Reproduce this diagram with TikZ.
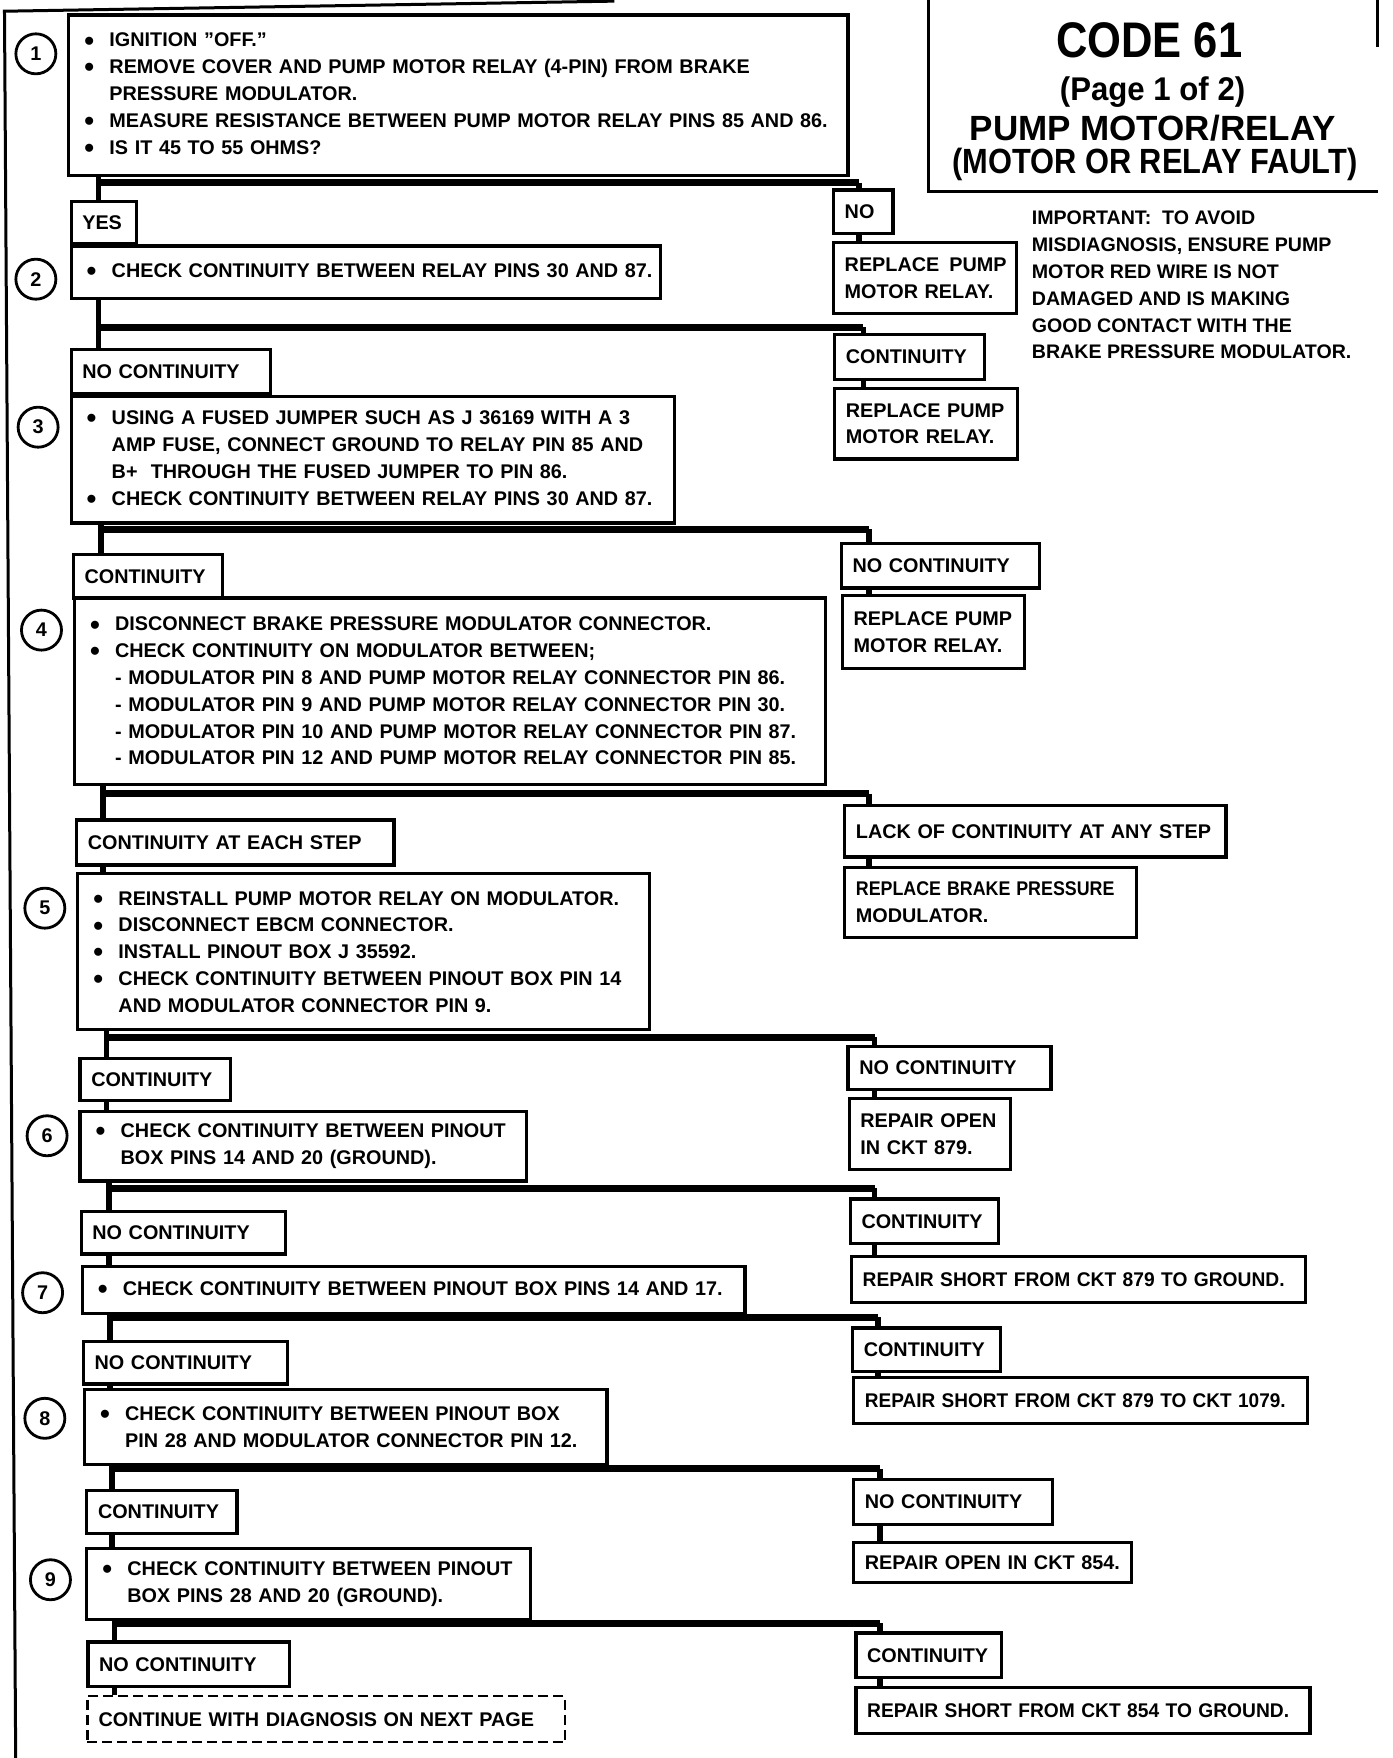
\documentclass[tikz,border=0pt]{standalone}
\usepackage{fontspec}
\setmainfont{Liberation Sans}
\usepackage{tikz}
\newcommand{\bu}[1]{\mbox{\makebox[12.5pt][l]{\raisebox{-1.6pt}{\fontsize{14}{14}\selectfont\textbullet}}#1}}
\newcommand{\cont}[1]{\mbox{\hspace*{12.5pt}#1}}
\newcommand{\pl}[1]{\mbox{#1}}
\tikzset{
  bx/.style 2 args={draw,line width=1.6pt,anchor=north west,align=left,
             inner xsep=5.6pt,inner ysep=1pt,
             text width={#1*0.5604pt-11.2pt},minimum height={#2*0.5604pt},
             font=\fontsize{9.9}{13.4}\selectfont\bfseries},
  mb/.style 2 args={bx={#1}{#2},inner xsep=7.8pt,text width={#1*0.5604pt-15.6pt}},
  nb/.style={circle,draw,line width=1.4pt,minimum size=20pt,inner sep=0pt,
             font=\fontsize{9.9}{12}\selectfont\bfseries},
  nx/.style 2 args={bx={#1}{#2},line width=1.1pt,dash pattern=on 5pt off 2.5pt},
  bar/.style={line width=3.4pt},
  stub/.style={line width=2.8pt},
  hd/.style={inner sep=0pt,font=\bfseries}
}
\begin{document}
\begin{tikzpicture}[x=0.5604pt,y=-0.5604pt]
  \useasboundingbox (0,0) rectangle (1242,1568);
  % page edge
  \draw[line width=1.5pt] (14,1568) -- (4,10) -- (548,1);

  % title
  \node[anchor=north west,inner sep=0pt,minimum width={400*0.5604pt},minimum height={190*0.5604pt}] (ttl) at (828,-20) {};
  \draw[line width=1.6pt] (ttl.north west) -- (ttl.south west) -- (ttl.south east);
  \draw[line width=1.6pt] (ttl.north east) -- ++(0,62);
  \node[hd,font=\fontsize{25}{30}\selectfont\bfseries] (t1) at (1025,36) {\scalebox{0.87}[1]{CODE 61}};
  \node[hd,font=\fontsize{16.4}{20}\selectfont\bfseries] (t2) at (1028,82) {\scalebox{0.95}[1]{(Page 1 of 2)}};
  \node[hd,font=\fontsize{17.5}{21}\selectfont\bfseries] (t3) at (1028,114) {PUMP MOTOR/RELAY};
  \node[hd,font=\fontsize{17.5}{21}\selectfont\bfseries] (t4) at (1030,147) {\scalebox{0.88}[1]{(MOTOR OR RELAY FAULT)}};
  \node[hd,anchor=north west,align=left,font=\fontsize{9.8}{13.4}\selectfont\bfseries] (imp) at (920,188)
    {IMPORTANT:\ \ TO AVOID\\MISDIAGNOSIS, ENSURE PUMP\\MOTOR RED WIRE IS NOT\\DAMAGED AND IS MAKING\\GOOD CONTACT WITH THE\\BRAKE PRESSURE MODULATOR.};

  % steps
  \node[mb={695}{143}] (s1) at (60,12) {\bu{IGNITION "OFF."}\\\bu{REMOVE COVER AND PUMP MOTOR RELAY (4-PIN) FROM BRAKE}\\\cont{PRESSURE MODULATOR.}\\\bu{MEASURE RESISTANCE BETWEEN PUMP MOTOR RELAY PINS 85 AND 86.}\\\bu{IS IT 45 TO 55 OHMS?}};
  \node[mb={526}{47}] (s2) at (62,218) {\bu{CHECK CONTINUITY BETWEEN RELAY PINS 30 AND 87.}};
  \node[mb={538}{113}] (s3) at (62,352) {\bu{USING A FUSED JUMPER SUCH AS J 36169 WITH A 3}\\\cont{AMP FUSE, CONNECT GROUND TO RELAY PIN 85 AND}\\\cont{B+\ \ THROUGH THE FUSED JUMPER TO PIN 86.}\\\bu{CHECK CONTINUITY BETWEEN RELAY PINS 30 AND 87.}};
  \node[mb={670}{166}] (s4) at (65,532) {\bu{DISCONNECT BRAKE PRESSURE MODULATOR CONNECTOR.}\\\bu{CHECK CONTINUITY ON MODULATOR BETWEEN;}\\\cont{- MODULATOR PIN 8 AND PUMP MOTOR RELAY CONNECTOR PIN 86.}\\\cont{- MODULATOR PIN 9 AND PUMP MOTOR RELAY CONNECTOR PIN 30.}\\\cont{- MODULATOR PIN 10 AND PUMP MOTOR RELAY CONNECTOR PIN 87.}\\\cont{- MODULATOR PIN 12 AND PUMP MOTOR RELAY CONNECTOR PIN 85.}};
  \node[mb={510}{139}] (s5) at (68,778) {\bu{REINSTALL PUMP MOTOR RELAY ON MODULATOR.}\\\bu{DISCONNECT EBCM CONNECTOR.}\\\bu{INSTALL PINOUT BOX J 35592.}\\\bu{CHECK CONTINUITY BETWEEN PINOUT BOX PIN 14}\\\cont{AND MODULATOR CONNECTOR PIN 9.}};
  \node[mb={398}{62}] (s6) at (70,990) {\bu{CHECK CONTINUITY BETWEEN PINOUT}\\\cont{BOX PINS 14 AND 20 (GROUND).}};
  \node[mb={591}{42}] (s7) at (72,1128) {\bu{CHECK CONTINUITY BETWEEN PINOUT BOX PINS 14 AND 17.}};
  \node[mb={466}{67}] (s8) at (74,1238) {\bu{CHECK CONTINUITY BETWEEN PINOUT BOX}\\\cont{PIN 28 AND MODULATOR CONNECTOR PIN 12.}};
  \node[mb={396}{63}] (s9) at (76,1380) {\bu{CHECK CONTINUITY BETWEEN PINOUT}\\\cont{BOX PINS 28 AND 20 (GROUND).}};
  \node[nx={426}{41}] (s10) at (77,1512) {\pl{CONTINUE WITH DIAGNOSIS ON NEXT PAGE}};

  \node[nb] (c1) at (32,48) {1};
  \node[nb] (c2) at (32,249) {2};
  \node[nb] (c3) at (34,381) {3};
  \node[nb] (c4) at (37,562) {4};
  \node[nb] (c5) at (40,810) {5};
  \node[nb] (c6) at (42,1013) {6};
  \node[nb] (c7) at (38,1153) {7};
  \node[nb] (c8) at (40,1265) {8};
  \node[nb] (c9) at (45,1409) {9};

  % left answers
  \node[bx={58}{38}] (l1) at (62,178) {\pl{YES}};
  \node[bx={178}{40}] (l2) at (62,310) {\pl{NO CONTINUITY}};
  \node[bx={133}{39}] (l3) at (64,493) {\pl{CONTINUITY}};
  \node[bx={283}{40}] (l4) at (67,730) {\pl{CONTINUITY AT EACH STEP}};
  \node[bx={134}{37}] (l5) at (70,943) {\pl{CONTINUITY}};
  \node[bx={182}{38}] (l6) at (71,1079) {\pl{NO CONTINUITY}};
  \node[bx={182}{38}] (l7) at (73,1195) {\pl{NO CONTINUITY}};
  \node[bx={134}{38}] (l8) at (76,1328) {\pl{CONTINUITY}};
  \node[bx={180}{40}] (l9) at (77,1463) {\pl{NO CONTINUITY}};

  % right answers
  \node[bx={53}{39}] (r1) at (742,168) {\pl{NO}};
  \node[bx={134}{40}] (r2) at (743,297) {\pl{CONTINUITY}};
  \node[bx={177}{40}] (r3) at (749,483) {\pl{NO CONTINUITY}};
  \node[bx={340}{46}] (r4) at (752,717) {\pl{LACK OF CONTINUITY AT ANY STEP}};
  \node[bx={181}{38}] (r5) at (755,932) {\pl{NO CONTINUITY}};
  \node[bx={132}{40}] (r6) at (757,1068) {\pl{CONTINUITY}};
  \node[bx={132}{39}] (r7) at (759,1183) {\pl{CONTINUITY}};
  \node[bx={177}{40}] (r8) at (760,1318) {\pl{NO CONTINUITY}};
  \node[bx={130}{40}] (r9) at (762,1455) {\pl{CONTINUITY}};

  \node[bx={163}{63}] (a1) at (742,215) {\pl{REPLACE\hspace{5pt}PUMP}\\\pl{MOTOR RELAY.}};
  \node[bx={163}{63}] (a2) at (743,345) {\pl{REPLACE PUMP}\\\pl{MOTOR RELAY.}};
  \node[bx={162}{65}] (a3) at (750,530) {\pl{REPLACE PUMP}\\\pl{MOTOR RELAY.}};
  \node[bx={260}{63}] (a4) at (752,772) {\scalebox{0.9}[1]{REPLACE BRAKE PRESSURE}\\\pl{MODULATOR.}};
  \node[bx={144}{64}] (a5) at (756,978) {\pl{REPAIR OPEN}\\\pl{IN CKT 879.}};
  \node[bx={405}{41}] (a6) at (758,1119) {\scalebox{0.97}[1]{REPAIR SHORT FROM CKT 879 TO GROUND.}};
  \node[bx={405}{41}] (a7) at (760,1227) {\scalebox{0.96}[1]{REPAIR SHORT FROM CKT 879 TO CKT 1079.}};
  \node[bx={248}{36}] (a8) at (760,1374) {\pl{REPAIR OPEN IN CKT 854.}};
  \node[bx={405}{41}] (a9) at (762,1504) {\scalebox{0.97}[1]{REPAIR SHORT FROM CKT 854 TO GROUND.}};

  % branch bars
  \foreach \i/\xl/\xr/\yb in {1/88/766/163,2/88/770/292,3/90/775/472,4/92/775/708,
      5/95/780/925,6/97/780/1060,7/98/783/1175,8/100/785/1310,9/102/785/1448}{
    \pgfmathtruncatemacro\j{\i+1}
    \coordinate (b\i) at (\xl,\yb);
    \coordinate (k\i) at (\xr,\yb);
    \draw[stub] (s\i.south -| b\i) -- (l\i.north -| b\i);
    \draw[stub] (l\i.south -| b\i) -- (s\j.north -| b\i);
    \draw[bar] (b\i) -- (k\i);
    \draw[stub] (k\i) -- (r\i.north -| k\i);
    \draw[stub] (r\i.south -| k\i) -- (a\i.north -| k\i);
  }
\end{tikzpicture}
\end{document}
